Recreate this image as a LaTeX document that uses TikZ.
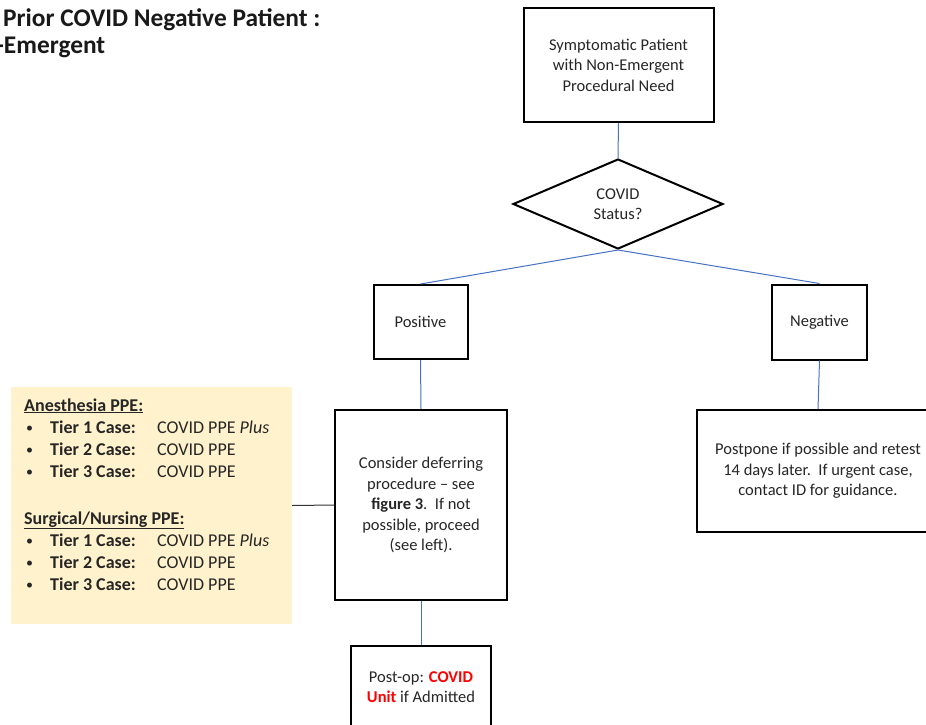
\documentclass[tikz,border=0pt]{standalone}
\usepackage{fontspec}
\setmainfont{Carlito}
\usetikzlibrary{shapes.geometric}
\definecolor{linkblue}{HTML}{4472C4}
\definecolor{ppefill}{HTML}{FFF2CC}
\definecolor{txt}{HTML}{262626}
\definecolor{alertred}{HTML}{FF0000}
\newcommand{\ppebullet}{\raisebox{1pt}{\fontsize{14}{14}\selectfont\textbullet}}
\tikzset{
  boxnode/.style={draw=black, line width=2pt, fill=white, align=center, inner sep=0pt,
    text=txt, font=\fontsize{16.5}{20.5}\selectfont},
  link/.style={draw=linkblue, line width=1pt},
  sidelink/.style={draw=black!80, line width=1pt},
  ppetext/.style={anchor=base west, inner sep=0pt, text=txt, font=\fontsize{18}{22}\selectfont},
  titletext/.style={anchor=base west, inner sep=0pt, text=black!90, font=\bfseries\fontsize{25.4}{28}\selectfont}
}
\begin{document}
\begin{tikzpicture}[x=1pt,y=-1pt]
\useasboundingbox (0,0) rectangle (926,724);
\clip (0,0) rectangle (926,724);

% title
\node[titletext] (title1) at (3,26) {Prior COVID Negative Patient :};
\node[titletext] (title2) at (-4,53) {-Emergent};

% boxes
\node[boxnode, minimum width=190pt, minimum height=114pt] (top) at (618.5,65) {Symptomatic Patient\\with Non-Emergent\\Procedural Need};
\node[boxnode, shape=diamond, aspect=2.33, minimum width=210pt, minimum height=90pt] (dia) at (618,204) {COVID\\Status?};
\node[boxnode, minimum width=94pt, minimum height=74pt] (pos) at (420.5,322) {Positive};
\node[boxnode, minimum width=95pt, minimum height=75pt] (neg) at (819.5,322) {Negative};
\node[boxnode, minimum width=172pt, minimum height=190pt] (consider) at (421,505) {Consider deferring\\procedure -- see\\\textbf{figure 3}.\ \ If not\\possible, proceed\\(see left).};
\node[boxnode, minimum width=140pt, minimum height=82pt] (postop) at (421,687) {Post-op: \textcolor{alertred}{\textbf{COVID}}\\\textcolor{alertred}{\textbf{Unit}} if Admitted};
\node[boxnode, minimum width=242pt, minimum height=122pt] (postpone) at (818,471) {Postpone if possible and retest\\14 days later.\ \ If urgent case,\\contact ID for guidance.};

% PPE panel
\node[fill=ppefill, inner sep=0pt, minimum width=281pt, minimum height=237pt] (ppe) at (151.5,505.5) {};

% connectors
\draw[link] (top.south) -- (dia.north);
\draw[link] (dia.south) -- (pos.north);
\draw[link] (dia.south) -- (neg.north);
\draw[link] (pos.south) -- (consider.north);
\draw[link] (neg.south) -- (postpone.north);
\draw[link] (consider.south) -- (postop.north);
\draw[sidelink] (consider.west) -- (ppe.east);

% PPE text
\node[ppetext] (a0) at (24,411) {\textbf{\underline{Anesthesia PPE:}}};
\node[ppetext] (a1b) at (26,433) {\ppebullet};
\node[ppetext] (a1) at (50,433) {\textbf{Tier 1 Case:}};
\node[ppetext] (a1v) at (157,433) {COVID PPE \textit{Plus}};
\node[ppetext] (a2b) at (26,455) {\ppebullet};
\node[ppetext] (a2) at (50,455) {\textbf{Tier 2 Case:}};
\node[ppetext] (a2v) at (157,455) {COVID PPE};
\node[ppetext] (a3b) at (26,477) {\ppebullet};
\node[ppetext] (a3) at (50,477) {\textbf{Tier 3 Case:}};
\node[ppetext] (a3v) at (157,477) {COVID PPE};

\node[ppetext] (s0) at (24,524) {\textbf{\underline{Surgical/Nursing PPE:}}};
\node[ppetext] (s1b) at (26,546) {\ppebullet};
\node[ppetext] (s1) at (50,546) {\textbf{Tier 1 Case:}};
\node[ppetext] (s1v) at (157,546) {COVID PPE \textit{Plus}};
\node[ppetext] (s2b) at (26,568) {\ppebullet};
\node[ppetext] (s2) at (50,568) {\textbf{Tier 2 Case:}};
\node[ppetext] (s2v) at (157,568) {COVID PPE};
\node[ppetext] (s3b) at (26,590) {\ppebullet};
\node[ppetext] (s3) at (50,590) {\textbf{Tier 3 Case:}};
\node[ppetext] (s3v) at (157,590) {COVID PPE};
\end{tikzpicture}
\end{document}
